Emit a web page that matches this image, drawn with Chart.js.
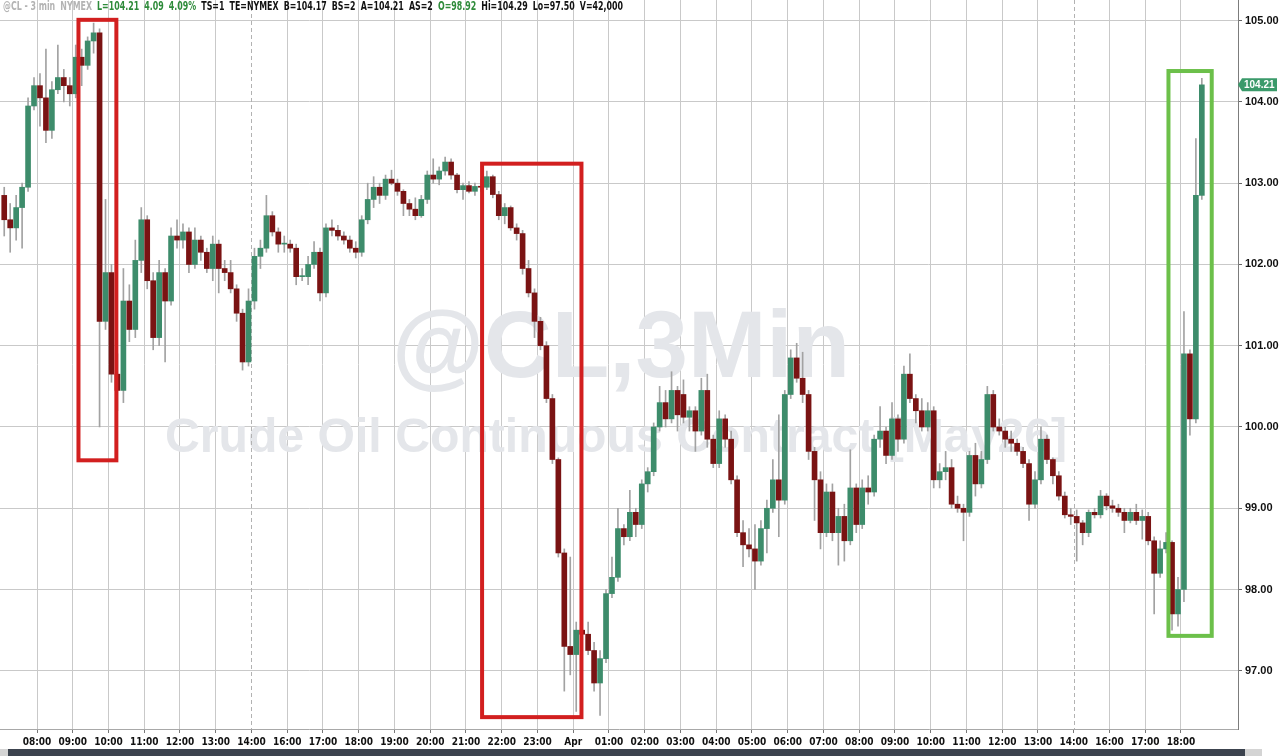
<!DOCTYPE html>
<html>
<head>
<meta charset="utf-8">
<title>@CL 3 min</title>
<script src="https://cdn.jsdelivr.net/npm/chart.js@4.4.1/dist/chart.umd.min.js"></script>
<style>
    html, body { margin: 0; padding: 0; background: #fff; }
    #wrap { position: relative; width: 1280px; height: 756px; }
</style>
</head>
<body>
<div id="wrap"><canvas id="chart"></canvas></div>
<script>
// one tick per trading hour; 15:00 is the daily break so it is missing
const hourLabels = ['08:00', '09:00', '10:00', '11:00', '12:00', '13:00', '14:00', '16:00', '17:00', '18:00',
    '19:00', '20:00', '21:00', '22:00', '23:00', 'Apr', '01:00', '02:00', '03:00', '04:00', '05:00', '06:00',
    '07:00', '08:00', '09:00', '10:00', '11:00', '12:00', '13:00', '14:00', '16:00', '17:00', '18:00'];
const sessionBreaks = [7, 30];
const priceTicks = [97, 98, 99, 100, 101, 102, 103, 104, 105];
const barsPerHour = 6;

const opens = [
    102.85, 102.55, 102.45, 102.70, 102.95, 103.95, 104.20, 104.05, 103.65, 104.15,
    104.30, 104.20, 104.10, 104.55, 104.45, 104.75, 104.85, 101.30, 101.90, 100.65,
    100.45, 101.55, 101.20, 102.05, 102.55, 101.80, 101.10, 101.90, 101.55, 102.35,
    102.30, 102.40, 102.00, 102.30, 102.15, 101.95, 102.25, 101.95, 101.90, 101.70,
    101.40, 100.80, 101.55, 102.10, 102.20, 102.60, 102.40, 102.25, 102.25, 102.20,
    101.85, 101.85, 102.00, 102.15, 101.65, 102.45, 102.42, 102.35, 102.30, 102.20,
    102.15, 102.55, 102.80, 102.95, 102.85, 103.05, 103.00, 102.90, 102.75, 102.68,
    102.60, 102.80, 103.10, 103.05, 103.15, 103.26, 103.10, 102.92, 102.97, 102.90,
    102.96, 102.95, 103.08, 102.86, 102.60, 102.70, 102.45, 102.38, 101.95, 101.65,
    101.30, 101.00, 100.35, 99.60, 98.45, 97.30, 97.20, 97.50, 97.45, 97.25,
    96.85, 97.15, 97.95, 98.15, 98.75, 98.65, 98.95, 98.80, 99.30, 99.45,
    100.00, 100.30, 100.10, 100.45, 100.40, 100.12, 100.20, 99.95, 100.45, 99.85,
    99.55, 100.10, 99.85, 99.35, 98.70, 98.55, 98.50, 98.35, 98.75, 99.00,
    99.35, 99.10, 100.40, 100.85, 100.60, 100.40, 99.70, 99.35, 98.70, 99.20,
    98.70, 98.90, 98.60, 99.25, 98.80, 99.25, 99.20, 99.85, 99.95, 99.65,
    100.10, 99.85, 100.65, 100.35, 100.20, 100.00, 100.20, 99.35, 99.45, 99.50,
    99.05, 99.00, 98.95, 99.65, 99.30, 99.60, 100.40, 100.00, 99.95, 99.85,
    99.80, 99.70, 99.55, 99.05, 99.35, 99.85, 99.60, 99.40, 99.15, 98.92,
    98.90, 98.82, 98.70, 98.95, 98.92, 99.15, 99.03, 99.00, 98.95, 98.85,
    98.95, 98.85, 98.90, 98.60, 98.20, 98.50, 98.58, 97.70, 98.00, 100.90,
    100.10, 102.85
];
const highs = [
    102.95, 102.75, 102.85, 103.00, 104.05, 104.30, 104.35, 104.65, 104.25, 104.70,
    104.40, 104.30, 104.70, 104.65, 104.80, 104.97, 104.90, 102.80, 102.00, 100.90,
    101.95, 101.75, 102.30, 102.70, 102.60, 101.90, 102.05, 101.95, 102.45, 102.55,
    102.50, 102.45, 102.45, 102.35, 102.20, 102.35, 102.30, 102.05, 102.05, 101.75,
    101.45, 101.70, 102.20, 102.30, 102.85, 102.65, 102.45, 102.35, 102.30, 102.25,
    101.95, 102.10, 102.28, 102.20, 102.50, 102.55, 102.48, 102.40, 102.35, 102.28,
    102.60, 103.00, 103.08, 103.00, 103.10, 103.16, 103.05, 102.92, 102.80, 102.82,
    102.85, 103.15, 103.30, 103.20, 103.32, 103.30, 103.12, 103.00, 103.02, 103.00,
    103.05, 103.15, 103.10, 102.90, 102.75, 102.72, 102.50, 102.42, 102.05, 101.70,
    101.35, 101.05, 100.40, 99.62, 98.50, 98.40, 97.60, 97.90, 97.60, 97.35,
    97.25, 98.00, 98.40, 99.00, 98.80, 99.22, 99.00, 99.35, 99.50, 100.05,
    100.50, 100.45, 100.68, 100.50, 100.58, 100.25, 100.25, 100.60, 100.65, 99.90,
    100.20, 100.15, 99.95, 99.40, 98.85, 98.75, 98.80, 98.85, 99.10, 99.60,
    100.15, 100.45, 100.95, 101.03, 100.92, 100.45, 99.75, 99.45, 99.30, 99.30,
    99.00, 99.05, 99.72, 99.30, 99.35, 99.40, 99.90, 100.25, 100.00, 100.30,
    100.15, 100.75, 100.90, 100.40, 100.35, 100.30, 100.25, 99.55, 99.70, 99.60,
    99.15, 99.05, 99.70, 99.80, 99.70, 100.50, 100.45, 100.10, 100.00, 99.95,
    99.85, 99.75, 99.60, 99.45, 100.00, 99.90, 99.62, 99.45, 99.20, 99.00,
    98.98, 98.85, 98.98, 99.00, 99.22, 99.18, 99.10, 99.05, 99.00, 99.00,
    99.05, 98.98, 98.95, 98.65, 98.60, 98.70, 98.60, 98.15, 101.42, 100.95,
    103.55, 104.29
];
const lows = [
    102.35, 102.15, 102.30, 102.20, 102.90, 103.90, 103.70, 103.50, 103.55, 104.10,
    104.00, 103.95, 104.05, 104.20, 104.40, 104.60, 100.00, 101.20, 100.55, 100.20,
    100.30, 101.05, 101.10, 101.90, 101.70, 100.95, 101.00, 100.80, 101.50, 102.20,
    102.20, 101.90, 101.95, 102.05, 101.90, 101.80, 101.65, 101.80, 101.65, 101.30,
    100.70, 100.75, 101.45, 101.95, 102.15, 102.35, 102.15, 102.15, 102.15, 101.75,
    101.80, 101.75, 101.95, 101.55, 101.60, 102.35, 102.30, 102.25, 102.15, 102.08,
    102.10, 102.50, 102.70, 102.75, 102.80, 102.98, 102.85, 102.60, 102.60, 102.55,
    102.58, 102.75, 103.00, 102.98, 103.10, 103.05, 102.88, 102.80, 102.88, 102.85,
    102.90, 102.92, 102.82, 102.55, 102.50, 102.42, 102.30, 101.88, 101.60, 101.10,
    100.95, 100.30, 99.55, 98.40, 96.75, 96.95, 96.50, 97.10, 97.20, 96.75,
    96.45, 97.10, 97.90, 98.10, 98.55, 98.60, 98.65, 98.75, 99.20, 99.40,
    99.95, 100.00, 100.05, 99.95, 100.05, 99.95, 99.70, 99.90, 99.75, 99.50,
    99.50, 99.75, 99.30, 98.65, 98.28, 98.40, 98.00, 98.30, 98.45, 98.95,
    98.65, 99.05, 100.35, 100.55, 100.30, 99.60, 98.85, 98.50, 98.65, 98.60,
    98.30, 98.35, 98.55, 98.70, 98.75, 99.05, 99.15, 99.75, 99.55, 99.60,
    99.70, 99.80, 100.30, 100.05, 99.95, 99.95, 99.25, 99.25, 99.35, 99.00,
    98.95, 98.60, 98.90, 99.15, 99.25, 99.55, 99.95, 99.90, 99.75, 99.70,
    99.65, 99.50, 98.85, 99.00, 99.30, 99.55, 99.30, 99.10, 98.88, 98.80,
    98.35, 98.55, 98.65, 98.88, 98.88, 98.98, 98.95, 98.90, 98.70, 98.82,
    98.80, 98.62, 98.55, 97.70, 98.15, 98.45, 97.50, 97.55, 97.85, 99.90,
    100.05, 102.80
];
const closes = [
    102.55, 102.45, 102.70, 102.95, 103.95, 104.20, 104.05, 103.65, 104.15, 104.30,
    104.20, 104.10, 104.55, 104.45, 104.75, 104.85, 101.30, 101.90, 100.65, 100.45,
    101.55, 101.20, 102.05, 102.55, 101.80, 101.10, 101.90, 101.55, 102.35, 102.30,
    102.40, 102.00, 102.30, 102.15, 101.95, 102.25, 101.95, 101.90, 101.70, 101.40,
    100.80, 101.55, 102.10, 102.20, 102.60, 102.40, 102.25, 102.25, 102.20, 101.85,
    101.85, 102.00, 102.15, 101.65, 102.45, 102.42, 102.35, 102.30, 102.20, 102.15,
    102.55, 102.80, 102.95, 102.85, 103.05, 103.00, 102.90, 102.75, 102.68, 102.60,
    102.80, 103.10, 103.05, 103.15, 103.26, 103.10, 102.92, 102.97, 102.90, 102.96,
    102.95, 103.08, 102.86, 102.60, 102.70, 102.45, 102.38, 101.95, 101.65, 101.30,
    101.00, 100.35, 99.60, 98.45, 97.30, 97.20, 97.50, 97.45, 97.25, 96.85,
    97.15, 97.95, 98.15, 98.75, 98.65, 98.95, 98.80, 99.30, 99.45, 100.00,
    100.30, 100.10, 100.45, 100.15, 100.12, 100.20, 99.95, 100.45, 99.85, 99.55,
    100.10, 99.85, 99.35, 98.70, 98.55, 98.50, 98.35, 98.75, 99.00, 99.35,
    99.10, 100.40, 100.85, 100.60, 100.40, 99.70, 99.35, 98.70, 99.20, 98.70,
    98.90, 98.60, 99.25, 98.80, 99.25, 99.20, 99.85, 99.95, 99.65, 100.10,
    99.85, 100.65, 100.35, 100.20, 100.00, 100.20, 99.35, 99.45, 99.50, 99.05,
    99.00, 98.95, 99.65, 99.30, 99.60, 100.40, 100.00, 99.95, 99.85, 99.80,
    99.70, 99.55, 99.05, 99.35, 99.85, 99.60, 99.40, 99.15, 98.92, 98.90,
    98.82, 98.70, 98.95, 98.92, 99.15, 99.03, 99.00, 98.95, 98.85, 98.95,
    98.85, 98.90, 98.60, 98.20, 98.50, 98.58, 97.70, 98.00, 100.90, 100.10,
    102.85, 104.21
];

const lastPrice = 104.21;
const headerItems = [
    ['@CL - 3 min', '#b4b4b4'], ['NYMEX', '#b4b4b4'], ['L=104.21', '#2e8b3a'], ['4.09', '#2e8b3a'],
    ['4.09%', '#2e8b3a'], ['TS=1', '#111'], ['TE=NYMEX', '#111'], ['B=104.17', '#111'], ['BS=2', '#111'],
    ['A=104.21', '#111'], ['AS=2', '#111'], ['O=98.92', '#2e8b3a'], ['Hi=104.29', '#111'],
    ['Lo=97.50', '#111'], ['V=42,000', '#111']
];
// highlight boxes in chart units (hours, price)
const boxes = [
    { x0: 2.16, x1: 3.22, y0: 99.59, y1: 105.01, color: '#d21f1f' },
    { x0: 13.45, x1: 16.23, y0: 96.43, y1: 103.24, color: '#d21f1f' },
    { x0: 32.65, x1: 33.86, y0: 97.43, y1: 104.38, color: '#6cc04a' }
];

const upColor = '#3d8c6b';
const downColor = '#7a1313';
const wickColor = '#a2a2a2';
const gridColor = '#c9c9c9';
const narrowFont = '"Liberation Sans Narrow", "DejaVu Sans Condensed", "Liberation Sans", sans-serif';

function getCandles() {
    let candles = [];
    for (let i = 0; i < closes.length; i++) {
        candles.push({ x: (i + 0.5) / barsPerHour, o: opens[i], h: highs[i], l: lows[i], c: closes[i] });
    }
    return candles;
}

function fitText(ctx, text, x, y, width) {
    ctx.font = 'bold 100px "Liberation Sans", Arial, sans-serif';
    let size = 100 * width / ctx.measureText(text).width;
    ctx.font = 'bold ' + size.toFixed(1) + 'px "Liberation Sans", Arial, sans-serif';
    ctx.fillText(text, x, y);
}

const decorPlugin = {
    id: 'decor',
    beforeDatasetsDraw(chart) {
        const ctx = chart.ctx;
        const area = chart.chartArea;
        const xs = chart.scales.x;
        ctx.save();
        ctx.fillStyle = '#e4e6ea';
        ctx.textAlign = 'center';
        ctx.textBaseline = 'alphabetic';
        fitText(ctx, '@CL,3Min', 621, 377, 458);
        fitText(ctx, 'Crude Oil Continuous Contract [May26]', 616, 452, 903);

        ctx.strokeStyle = '#b2b2b2';
        ctx.lineWidth = 1;
        ctx.setLineDash([4, 3]);
        sessionBreaks.forEach(function (v) {
            let x = Math.round(xs.getPixelForValue(v)) + 0.5;
            ctx.beginPath();
            ctx.moveTo(x, area.top);
            ctx.lineTo(x, area.bottom);
            ctx.stroke();
        });
        ctx.restore();
    },
    afterDatasetsDraw(chart) {
        const ctx = chart.ctx;
        const xs = chart.scales.x;
        const ys = chart.scales.y;
        ctx.save();
        ctx.lineWidth = 4;
        boxes.forEach(function (b) {
            let left = xs.getPixelForValue(b.x0);
            let right = xs.getPixelForValue(b.x1);
            let top = ys.getPixelForValue(b.y1);
            let bottom = ys.getPixelForValue(b.y0);
            ctx.strokeStyle = b.color;
            ctx.strokeRect(left, top, right - left, bottom - top);
        });
        ctx.restore();
    },
    afterDraw(chart) {
        const ctx = chart.ctx;
        const area = chart.chartArea;
        const ys = chart.scales.y;
        ctx.save();

        // quote line at the top
        ctx.font = 'bold 12px ' + narrowFont;
        ctx.textAlign = 'left';
        ctx.textBaseline = 'alphabetic';
        let gap = 7;
        let total = -gap;
        headerItems.forEach(function (item) { total += ctx.measureText(item[0]).width + gap; });
        ctx.translate(3, 0);
        ctx.scale(620 / total, 1);
        let x = 0;
        headerItems.forEach(function (item) {
            ctx.fillStyle = item[1];
            ctx.fillText(item[0], x, 10);
            x += ctx.measureText(item[0]).width + gap;
        });
        ctx.setTransform(1, 0, 0, 1, 0, 0);

        // last price tag
        let y = ys.getPixelForValue(lastPrice);
        ctx.fillStyle = '#3a9a6a';
        ctx.beginPath();
        ctx.moveTo(area.right, y);
        ctx.lineTo(area.right + 4, y - 6.5);
        ctx.lineTo(area.right + 39, y - 6.5);
        ctx.lineTo(area.right + 39, y + 6.5);
        ctx.lineTo(area.right + 4, y + 6.5);
        ctx.closePath();
        ctx.fill();
        ctx.fillStyle = '#fff';
        ctx.font = 'bold 10px "Liberation Sans", Arial, sans-serif';
        ctx.textBaseline = 'middle';
        ctx.fillText(lastPrice.toFixed(2), area.right + 6, y + 0.5);

        // scroll bar strip
        ctx.fillStyle = '#d4d4d4';
        ctx.fillRect(0, 749, 1262, 7);
        ctx.fillStyle = '#3c434e';
        ctx.fillRect(8, 749, 1237, 7);
        ctx.restore();
    }
};

function createChart(ctx) {
    const candles = getCandles();
    return new Chart(ctx, {
        type: 'bar',
        data: {
            datasets: [{
                label: 'body',
                data: candles.map(k => ({ x: k.x, y: [k.o, k.c] })),
                backgroundColor: candles.map(k => k.c >= k.o ? upColor : downColor),
                borderWidth: 0,
                barThickness: 5,
                minBarLength: 1,
                grouped: false,
                order: 0
            }, {
                label: 'wick',
                data: candles.map(k => ({ x: k.x, y: [k.l, k.h] })),
                backgroundColor: wickColor,
                borderWidth: 0,
                barThickness: 1,
                grouped: false,
                order: 1
            }]
        },
        options: {
            responsive: true,
            maintainAspectRatio: false,
            animation: false,
            events: [],
            layout: { padding: 0 },
            plugins: {
                legend: { display: false },
                tooltip: { enabled: false }
            },
            scales: {
                x: {
                    type: 'linear',
                    position: 'bottom',
                    min: -0.035,
                    max: 34.595,
                    offset: false,
                    afterBuildTicks: function (scale) {
                        scale.ticks = hourLabels.map((_, j) => ({ value: j + 1 }));
                    },
                    afterFit: function (scale) {
                        scale.height = 27;
                        scale.paddingLeft = 0;
                        scale.paddingRight = 0;
                    },
                    ticks: {
                        autoSkip: false,
                        maxRotation: 0,
                        padding: 3,
                        color: '#111',
                        font: { family: narrowFont, size: 10, weight: 'bold' },
                        callback: (value, index) => hourLabels[index]
                    },
                    grid: {
                        offset: false,
                        color: c => sessionBreaks.includes(c.tick && c.tick.value) ? 'rgba(0,0,0,0)' : gridColor,
                        tickColor: '#777',
                        tickLength: 4
                    },
                    border: { display: true, color: '#a8a8a8' }
                },
                y: {
                    type: 'linear',
                    position: 'right',
                    min: 96.284,
                    max: 105.254,
                    afterBuildTicks: function (scale) {
                        scale.ticks = priceTicks.map(v => ({ value: v }));
                    },
                    afterFit: function (scale) {
                        scale.width = 42;
                        scale.paddingTop = 0;
                        scale.paddingBottom = 0;
                    },
                    ticks: {
                        autoSkip: false,
                        padding: 3,
                        color: '#111',
                        font: { family: '"Liberation Sans", Arial, sans-serif', size: 11, weight: 'bold' },
                        callback: v => v.toFixed(2)
                    },
                    grid: { color: gridColor, tickColor: '#666', tickLength: 4 },
                    border: { display: true, color: '#7c7c7c', width: 1 }
                }
            }
        },
        plugins: [decorPlugin]
    });
}

createChart(document.getElementById('chart').getContext('2d'));
</script>
</body>
</html>
